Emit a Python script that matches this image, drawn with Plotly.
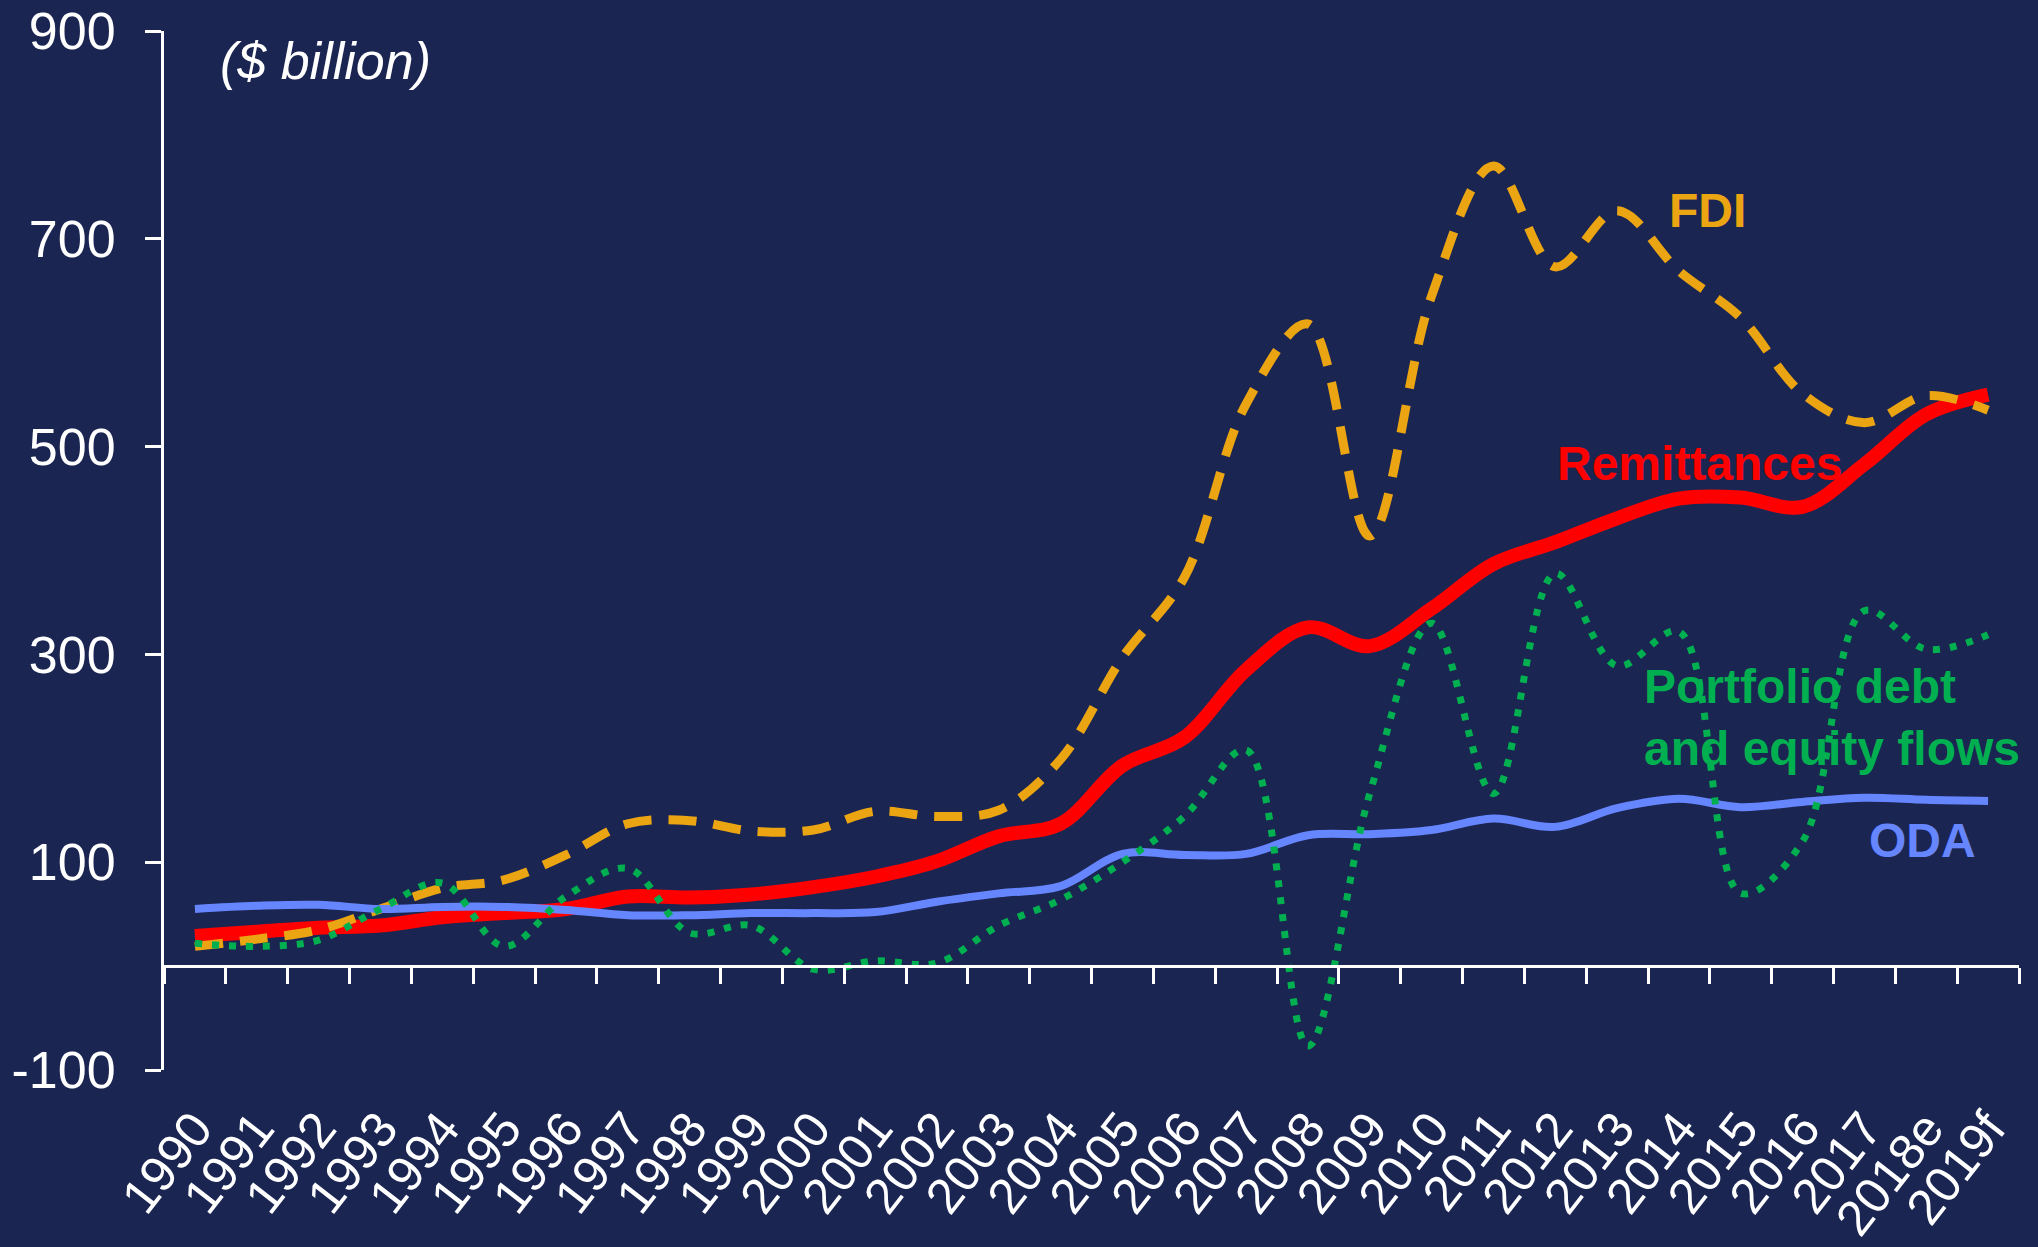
import plotly.graph_objects as go

# flujos hacia países de ingreso bajo y medio ($ billion)
years = ['1990', '1991', '1992', '1993', '1994', '1995', '1996', '1997', '1998', '1999',
         '2000', '2001', '2002', '2003', '2004', '2005', '2006', '2007', '2008', '2009',
         '2010', '2011', '2012', '2013', '2014', '2015', '2016', '2017', '2018e', '2019f']
remittances = [29, 33, 37, 39, 47, 51, 55, 67, 66, 69, 76, 86, 101, 125, 137, 193, 220, 285,
               326, 308, 344, 387, 408, 431, 450, 451, 442, 483, 531, 550]
fdi = [19, 26, 35, 55, 75, 83, 107, 137, 140, 130, 131, 149, 144, 150, 199, 297, 374, 541,
       618, 414, 645, 770, 673, 727, 669, 624, 551, 523, 549, 535]
portfolio = [22, 19, 25, 55, 80, 19, 67, 94, 32, 39, -3, 5, 3, 39, 64, 100, 144, 208, -77,
             166, 330, 166, 378, 289, 322, 70, 120, 342, 305, 319]
oda = [55, 58, 59, 55, 57, 57, 54, 49, 49, 51, 51, 52, 62, 70, 77, 108, 107, 108, 126, 127,
       131, 142, 134, 152, 161, 153, 158, 162, 160, 159]
y_ticks = [-100, 100, 300, 500, 700, 900]

BG = '#1B2552'
WHITE = '#FFFFFF'
FONT = 'Liberation Sans, Arial, sans-serif'
C_REM = '#FF0000'
C_FDI = '#EBA512'
C_PORT = '#00B050'
C_ODA = '#6686FF'

fig = go.Figure()
fig.add_trace(go.Scatter(x=years, y=remittances, mode='lines', name='Remittances',
                         line=dict(color=C_REM, width=14, shape='spline', smoothing=1)))
fig.add_trace(go.Scatter(x=years, y=fdi, mode='lines', name='FDI',
                         line=dict(color=C_FDI, width=9, shape='spline', smoothing=1,
                                   dash='28px,17px')))
fig.add_trace(go.Scatter(x=years, y=oda, mode='lines', name='ODA',
                         line=dict(color=C_ODA, width=8, shape='spline', smoothing=1)))
fig.add_trace(go.Scatter(x=years, y=portfolio, mode='lines', name='Portfolio',
                         line=dict(color=C_PORT, width=7, shape='spline', smoothing=1,
                                   dash='7px,10px')))
# eje auxiliar para la línea en cero con sus marcas
fig.add_trace(go.Scatter(x=years, y=[None] * len(years), xaxis='x2', mode='lines',
                         showlegend=False, hoverinfo='skip'))

labels = [
    ('FDI', 0.810, 727, C_FDI),
    ('Remittances', 0.750, 484, C_REM),
    ('Portfolio debt<br>and equity flows', 0.797, 239, C_PORT),
    ('ODA', 0.918, 121, C_ODA),
]
annotations = []
for text, xp, yv, col in labels:
    annotations.append(dict(text='<b>' + text + '</b>', x=xp, y=yv, xref='paper', yref='y',
                            xanchor='left', yanchor='middle', align='left', showarrow=False,
                            font=dict(family=FONT, size=48, color=col)))
annotations.append(dict(text='<i>($ billion)</i>', x=0.029, y=871, xref='paper', yref='y',
                        xanchor='left', yanchor='middle', showarrow=False,
                        font=dict(family=FONT, size=52, color=WHITE)))

fig.update_layout(
    width=2038, height=1247,
    margin=dict(l=164, r=19, t=31, b=177),
    paper_bgcolor=BG, plot_bgcolor=BG,
    showlegend=False,
    font=dict(family=FONT, color=WHITE),
    annotations=annotations,
    xaxis=dict(type='category', categoryarray=years, range=[-0.5, 29.5], automargin=False,
               tickmode='array', tickvals=years, ticktext=years,
               showline=False, showgrid=False, zeroline=False, ticks='',
               tickangle=-52, ticklabelstandoff=18,
               tickfont=dict(size=50, color=WHITE, family=FONT)),
    xaxis2=dict(type='category', categoryarray=years, range=[-0.5, 29.5], automargin=False,
                overlaying='x', anchor='free', position=0.1,
                showline=True, linecolor=WHITE, linewidth=3,
                ticks='outside', ticklen=16, tickwidth=3, tickcolor=WHITE,
                tickson='boundaries', showticklabels=False, showgrid=False,
                zeroline=False),
    yaxis=dict(range=[-100, 900], tickvals=y_ticks, ticktext=[str(v) for v in y_ticks],
               automargin=False, showgrid=False, zeroline=False,
               showline=True, linecolor=WHITE, linewidth=3,
               ticks='outside', ticklen=16, tickwidth=3, tickcolor=WHITE,
               ticklabelstandoff=19,
               tickfont=dict(size=52, color=WHITE, family=FONT)),
)

# sin el margen blanco de la página
fig.write_html("out.html", config={'displayModeBar': False},
               post_script="document.body.style.margin='0';"
                           "document.body.style.background='#1B2552';"
                           "document.body.style.overflow='hidden';")
